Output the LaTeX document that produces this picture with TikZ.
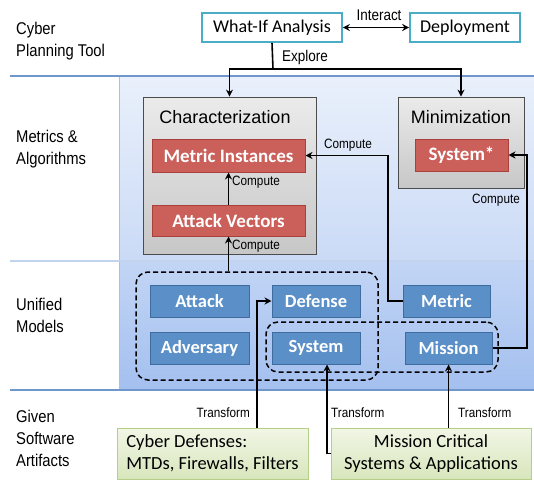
\documentclass[tikz,border=0pt]{standalone}
\usepackage{fontspec}
\setmainfont{Carlito}
\newfontfamily\narrowfont[FakeStretch=0.87]{Liberation Sans}
\newfontfamily\arialfont{Liberation Sans}
\usetikzlibrary{arrows.meta,calc}
\definecolor{sepblue}{HTML}{6F97CC}
\definecolor{faintsep}{HTML}{C2D3EE}
\definecolor{bandAtop}{HTML}{E9F0FB}
\definecolor{bandAbot}{HTML}{CADAF6}
\definecolor{bandBtop}{HTML}{C2D5F5}
\definecolor{bandBbot}{HTML}{A4C0EF}
\definecolor{bandedge}{HTML}{A9C0E0}
\definecolor{cyanb}{HTML}{4BACC6}
\definecolor{redfill}{HTML}{CB5F5A}
\definecolor{redline}{HTML}{A8403C}
\definecolor{bluefill}{HTML}{5A8FC8}
\definecolor{blueline}{HTML}{3E6C9F}
\definecolor{greenline}{HTML}{B5CF86}
\definecolor{greentop}{HTML}{F1F6E6}
\definecolor{greenbot}{HTML}{D8E6BC}
\tikzset{
  conn/.style={line width=1.6pt,-{Stealth[length=7pt,width=7pt]}},
  bothconn/.style={line width=1.6pt,{Stealth[length=7pt,width=7pt]}-{Stealth[length=7pt,width=7pt]}},
  plainconn/.style={line width=1.6pt},
  topbox/.style={draw=cyanb,line width=1.6pt,fill=white,minimum height=29pt,inner sep=0pt,font=\fontsize{18}{20}\selectfont},
  graybox/.style={draw=black!70,line width=0.8pt,top color=black!8,bottom color=black!22,inner sep=0pt,drop shadow/.try},
  redbox/.style={draw=redline,line width=1pt,fill=redfill,text=white,inner sep=0pt,font=\bfseries\fontsize{19}{20}\selectfont},
  bluebox/.style={draw=blueline,line width=1pt,fill=bluefill,text=white,inner sep=0pt,minimum height=32pt,font=\bfseries\fontsize{18.5}{20}\selectfont},
  grp/.style={draw,line width=1.5pt,rounded corners=12pt,inner sep=0pt,dash pattern=on 5pt off 3pt},
  greenbox/.style={draw=greenline,line width=1pt,top color=greentop,bottom color=greenbot,inner xsep=5pt,inner ysep=0pt,minimum height=51pt,font=\fontsize{18.5}{22}\selectfont},
  rowlabel/.style={anchor=west,align=left,inner sep=0pt,font=\narrowfont\fontsize{17}{22}\selectfont},
  smalllabel/.style={font=\narrowfont\fontsize{13.5}{15}\selectfont,inner sep=0pt},
  midlabel/.style={font=\narrowfont\fontsize{15.5}{17}\selectfont,inner sep=0pt},
  titlelabel/.style={font=\arialfont\fontsize{18}{20}\selectfont,inner sep=0pt}
}
\begin{document}
\begin{tikzpicture}[x=1pt,y=-1pt]
\useasboundingbox (0,0) rectangle (534,482);
% bands
\shade[top color=bandAtop,bottom color=bandAbot] (119,77) rectangle (534,261);
\shade[top color=bandBtop,bottom color=bandBbot] (119,261) rectangle (534,390);
\draw[bandedge,line width=1pt] (119,77) -- (119,390);
\draw[sepblue,line width=1.6pt] (10,76) -- (534,76);
\draw[faintsep,line width=1.2pt] (10,261) -- (534,261);
\draw[sepblue,line width=1.6pt] (10,390) -- (534,390);

% row labels
\node[rowlabel] (lab1) at (16,41) {Cyber\\Planning Tool};
\node[rowlabel] (lab2) at (16,149) {Metrics \&\\Algorithms};
\node[rowlabel] (lab3) at (16,315) {Unified\\Models};
\node[rowlabel] (lab4) at (16,438) {Given\\Software\\Artifacts};

% top boxes
\node[topbox,minimum width=140pt] (whatif) at (272,27.5) {What-If Analysis};
\node[topbox,minimum width=110pt] (deploy) at (465,27.5) {Deployment};
\draw[bothconn] (whatif.east) -- (deploy.west);
\node[midlabel] (interact) at (379,15) {Interact};

% characterization / minimization
\node[graybox,minimum width=173pt,minimum height=157pt] (char) at (229.5,175.5) {};
\node[titlelabel] (chartitle) at (225,117) {Characterization};
\node[redbox,minimum width=153pt,minimum height=33pt] (mi) at (228.5,155.5) {Metric Instances};
\node[redbox,minimum width=153pt,minimum height=31pt] (av) at (228.5,220.5) {Attack Vectors};
\node[graybox,minimum width=126pt,minimum height=91pt] (mini) at (461,142.5) {};
\node[titlelabel] (minititle) at (461,117) {Minimization};
\node[redbox,minimum width=93pt,minimum height=32pt] (sysstar) at (461.5,155) {System*};

% explore
\coordinate (ej) at (273,69);
\draw[plainconn] (whatif.south) -- (ej);
\draw[conn] (ej) -| (char.north);
\draw[conn] (ej) -| (mini.north);
\node[midlabel,anchor=west] (explore) at (282,57) {Explore};

% unified models
\node[bluebox,minimum width=99pt] (attack) at (199.5,301) {Attack};
\node[bluebox,minimum width=88pt] (defense) at (316,301) {Defense};
\node[bluebox,minimum width=99pt] (adversary) at (199.5,348) {Adversary};
\node[bluebox,minimum width=88pt] (system) at (316,348) {System};
\node[bluebox,minimum width=87pt] (metric) at (446.5,301) {Metric};
\node[bluebox,minimum width=87pt] (mission) at (448.5,348) {Mission};
\node[grp,minimum width=242pt,minimum height=108pt] (grp1) at (257,326) {};
\node[grp,minimum width=232pt,minimum height=50pt] (grp2) at (382,347) {};

% compute arrows
\draw[conn] (av.south |- grp1.north) -- (av.south);
\node[smalllabel,anchor=west] (c1) at (232,246) {Compute};
\draw[conn] (av.north) -- (mi.south);
\node[smalllabel,anchor=west] (c2) at (232,182.5) {Compute};
\coordinate (mj) at (388,301);
\draw[conn] (metric.west) -- (mj) |- (mi.east);
\node[smalllabel] (c3) at (348,145) {Compute};
\coordinate (sj) at (527,348);
\draw[conn] (mission.east) -- (sj) |- (sysstar.east);
\node[smalllabel] (c4) at (496,200) {Compute};

% given artifacts
\node[greenbox,minimum width=191pt,align=left] (cd) at (212.5,453.5) {Cyber Defenses:\\MTDs, Firewalls, Filters};
\node[greenbox,minimum width=200pt,align=center] (mc) at (431,453.5) {Mission Critical\\Systems \& Applications};
\coordinate (tj1) at (257,428);
\draw[conn] (tj1) |- (defense.west);
\coordinate (tj2) at (327,453.5);
\draw[conn] (mc.west) -- (tj2) -- (tj2 |- system.south);
\draw[conn] (mc.north -| mission.south) -- (mission.south);
\node[smalllabel,anchor=east] (t1) at (250,413) {Transform};
\node[smalllabel,anchor=west] (t2) at (331,413) {Transform};
\node[smalllabel,anchor=west] (t3) at (458,413) {Transform};
\end{tikzpicture}
\end{document}
